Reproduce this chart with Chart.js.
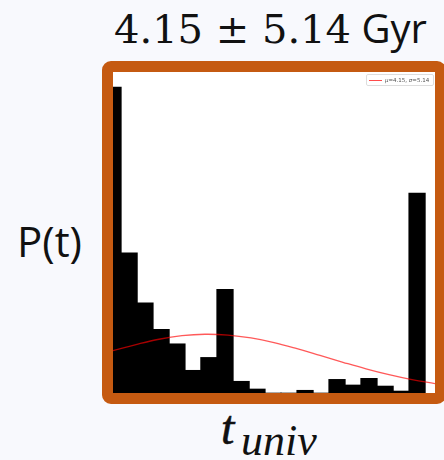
<!DOCTYPE html>
<html>
<head>
<meta charset="utf-8">
<script src="https://cdn.jsdelivr.net/npm/chart.js@4.4.0/dist/chart.umd.min.js"></script>
<style>
  html, body { margin: 0; padding: 0; }
  body { width: 444px; height: 460px; background: #f8f9fd; position: relative; overflow: hidden; }
  #title { position: absolute; left: 114px; top: 8px; white-space: nowrap; line-height: 1; color: #111; font-family: "DejaVu Serif", serif; font-size: 40px; }
  #title .unit { font-family: "Open Sans", sans-serif; font-size: 40px; }
  #ylabel { position: absolute; left: 17px; top: 220px; font-family: "Open Sans", sans-serif; font-size: 42px; line-height: 1; color: #111; }
  .xl { position: absolute; font-family: "Liberation Serif", serif; font-style: italic; line-height: 1; color: #111; }
  #frame { position: absolute; left: 102px; top: 61px; width: 322px; height: 321px; border: 11px solid #C55A11; border-radius: 9px; background: #fff; }
  #myChart { display: block; }
  #legendBox { position: absolute; left: 253px; top: 2px; width: 66px; height: 10px; border: 1px solid #ddd; border-radius: 2px; background: rgba(255,255,255,0.8); font-family: "DejaVu Sans", sans-serif; font-size: 5.5px; color: #555; line-height: 10px; white-space: nowrap; }
  #legendBox .swatch { display: inline-block; width: 13px; border-top: 1px solid rgba(255,0,0,0.7); vertical-align: middle; margin: 0 3px 0 2px; }
</style>
</head>
<body>
<div id="title">4.15 ± 5.14<span class="unit"> Gyr</span></div>
<div id="ylabel">P(t)</div>
<div id="frame">
  <canvas id="myChart" width="322" height="321"></canvas>
  <div id="legendBox"><span class="swatch"></span><i>μ</i>=4.15, <i>σ</i>=5.14</div>
</div>
<span class="xl" style="left:221px; top:404px; font-size:48px; -webkit-text-stroke:0.6px #111;">t</span>
<span class="xl" style="left:241px; top:419px; font-size:44px;">univ</span>

<script>
// histograma de edades (densidad) + gaussiana ajustada
const binCenters = [0, 0.70, 1.39, 2.09, 2.78, 3.48, 4.17, 4.87, 5.57, 6.26,
                    6.96, 7.65, 8.35, 9.04, 9.74, 10.43, 11.13, 11.83, 12.52, 13.22];
const density = [0.404, 0.185, 0.119, 0.084, 0.065, 0.030, 0.047, 0.137, 0.0155, 0.0053,
                 0, 0, 0.0036, 0, 0.018, 0.0106, 0.0194, 0.0092, 0.0026, 0.264];

// curva roja leida cada 1 Gyr
const curveT = [0, 1, 2, 3, 4, 5, 6, 7, 8, 9, 10, 11, 12, 13, 14];
const curveP = [0.056, 0.064, 0.071, 0.0757, 0.0776, 0.0765, 0.0727, 0.0666, 0.0586, 0.0497,
                0.0406, 0.0319, 0.0242, 0.0176, 0.0124];

const tMax = 14;
const pMax = 0.424;

function toXY(xs, ys) {
  return xs.map((x, i) => ({ x: x, y: ys[i] }));
}

function drawHistogram(_element) {
  const data = {
    datasets: [
      {
        type: "line",
        label: "gauss",
        data: toXY(curveT, curveP),
        borderColor: "rgba(255, 0, 0, 0.65)",
        borderWidth: 1.3,
        pointRadius: 0,
        tension: 0.4,
        order: 0,
      },
      {
        type: "bar",
        label: "hist",
        data: toXY(binCenters, density),
        backgroundColor: "#000",
        borderWidth: 0,
        barThickness: 16.6,
        order: 1,
      },
    ],
  };
  const config = {
    type: "bar",
    data: data,
    options: {
      responsive: false,
      animation: false,
      layout: { padding: 0 },
      plugins: { legend: { display: false }, tooltip: { enabled: false } },
      scales: {
        x: { type: "linear", min: 0, max: tMax, offset: false, display: false },
        y: { min: 0, max: pMax, display: false },
      },
    },
  };
  return new Chart(_element, config);
}

drawHistogram(document.getElementById("myChart"));
</script>
</body>
</html>
